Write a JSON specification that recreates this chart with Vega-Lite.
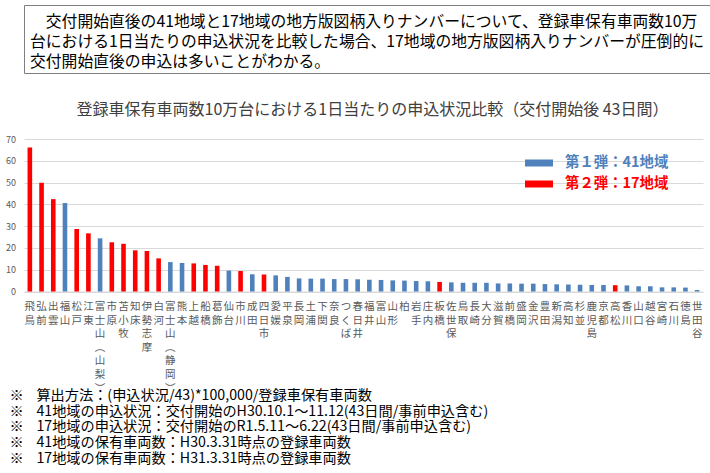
{
  "$schema": "https://vega.github.io/schema/vega-lite/v6.json",
  "padding": {"left": 4, "top": 4, "right": 0, "bottom": 0},
  "spacing": 28,
  "config": {
    "font": "Noto Sans CJK JP",
    "view": {"stroke": null}
  },
  "vconcat": [
    {
      "width": 703,
      "height": 68,
      "view": {"stroke": "#7F7F7F", "strokeWidth": 1},
      "data": {
        "values": [
          {"line": 1, "text": "\u200b　交付開始直後の41地域と17地域の地方版図柄入りナンバーについて、登録車保有車両数10万"},
          {"line": 2, "text": "台における1日当たりの申込状況を比較した場合、17地域の地方版図柄入りナンバーが圧倒的に"},
          {"line": 3, "text": "交付開始直後の申込は多いことがわかる。"}
        ]
      },
      "mark": {"type": "text", "align": "left", "baseline": "middle", "fontSize": 15.8, "color": "#000000", "dx": 6, "dy": 3},
      "encoding": {
        "x": {"value": 0},
        "y": {"field": "line", "type": "ordinal", "axis": null, "scale": {"type": "point", "padding": 0.66}},
        "text": {"field": "text"}
      }
    },
    {
      "width": 679,
      "height": 152.5,
      "title": {
        "text": "登録車保有車両数10万台における1日当たりの申込状況比較（交付開始後 43日間）",
        "fontSize": 16,
        "fontWeight": "normal",
        "color": "#404040",
        "anchor": "middle",
        "offset": 17,
        "dx": 9
      },
      "data": {
        "values": [
          {"region": "飛鳥", "group": "第２弾：17地域", "value": 66.1},
          {"region": "弘前", "group": "第２弾：17地域", "value": 49.9},
          {"region": "出雲", "group": "第２弾：17地域", "value": 42.4},
          {"region": "福山", "group": "第１弾：41地域", "value": 40.6},
          {"region": "松戸", "group": "第２弾：17地域", "value": 28.7},
          {"region": "江東", "group": "第２弾：17地域", "value": 26.7},
          {"region": "富士山（山梨）", "group": "第１弾：41地域", "value": 24.4},
          {"region": "市原", "group": "第２弾：17地域", "value": 22.6},
          {"region": "苫小牧", "group": "第２弾：17地域", "value": 21.9},
          {"region": "知床", "group": "第２弾：17地域", "value": 18.9},
          {"region": "伊勢志摩", "group": "第２弾：17地域", "value": 18.6},
          {"region": "白河", "group": "第２弾：17地域", "value": 15.2},
          {"region": "富士山（静岡）", "group": "第１弾：41地域", "value": 13.5},
          {"region": "熊本", "group": "第１弾：41地域", "value": 13.1},
          {"region": "上越", "group": "第２弾：17地域", "value": 12.9},
          {"region": "船橋", "group": "第２弾：17地域", "value": 12.2},
          {"region": "葛飾", "group": "第２弾：17地域", "value": 11.8},
          {"region": "仙台", "group": "第１弾：41地域", "value": 9.6},
          {"region": "市川", "group": "第２弾：17地域", "value": 9.4},
          {"region": "成田", "group": "第１弾：41地域", "value": 7.9},
          {"region": "四日市", "group": "第２弾：17地域", "value": 7.8},
          {"region": "愛媛", "group": "第１弾：41地域", "value": 7.4},
          {"region": "平泉", "group": "第１弾：41地域", "value": 6.7},
          {"region": "長岡", "group": "第１弾：41地域", "value": 6.0},
          {"region": "土浦", "group": "第１弾：41地域", "value": 5.9},
          {"region": "下関", "group": "第１弾：41地域", "value": 5.9},
          {"region": "奈良", "group": "第１弾：41地域", "value": 5.7},
          {"region": "つくば", "group": "第１弾：41地域", "value": 5.7},
          {"region": "春日井", "group": "第１弾：41地域", "value": 5.6},
          {"region": "福井", "group": "第１弾：41地域", "value": 5.4},
          {"region": "富山", "group": "第１弾：41地域", "value": 5.3},
          {"region": "山形", "group": "第１弾：41地域", "value": 5.1},
          {"region": "柏", "group": "第１弾：41地域", "value": 5.0},
          {"region": "岩手", "group": "第１弾：41地域", "value": 4.8},
          {"region": "庄内", "group": "第１弾：41地域", "value": 4.7},
          {"region": "板橋", "group": "第２弾：17地域", "value": 4.4},
          {"region": "佐世保", "group": "第１弾：41地域", "value": 4.2},
          {"region": "鳥取", "group": "第１弾：41地域", "value": 4.0},
          {"region": "長崎", "group": "第１弾：41地域", "value": 4.0},
          {"region": "大分", "group": "第１弾：41地域", "value": 4.0},
          {"region": "滋賀", "group": "第１弾：41地域", "value": 3.7},
          {"region": "前橋", "group": "第１弾：41地域", "value": 3.7},
          {"region": "盛岡", "group": "第１弾：41地域", "value": 3.6},
          {"region": "金沢", "group": "第１弾：41地域", "value": 3.6},
          {"region": "豊田", "group": "第１弾：41地域", "value": 3.4},
          {"region": "新潟", "group": "第１弾：41地域", "value": 3.3},
          {"region": "高知", "group": "第１弾：41地域", "value": 3.2},
          {"region": "杉並", "group": "第１弾：41地域", "value": 3.1},
          {"region": "鹿児島", "group": "第１弾：41地域", "value": 3.0},
          {"region": "京都", "group": "第１弾：41地域", "value": 3.0},
          {"region": "高松", "group": "第２弾：17地域", "value": 2.9},
          {"region": "香川", "group": "第１弾：41地域", "value": 2.8},
          {"region": "山口", "group": "第１弾：41地域", "value": 2.4},
          {"region": "越谷", "group": "第１弾：41地域", "value": 2.4},
          {"region": "宮崎", "group": "第１弾：41地域", "value": 1.9},
          {"region": "石川", "group": "第１弾：41地域", "value": 1.9},
          {"region": "徳島", "group": "第１弾：41地域", "value": 1.8},
          {"region": "世田谷", "group": "第１弾：41地域", "value": 0.7}
        ]
      },
      "mark": {"type": "bar", "size": 4.6},
      "encoding": {
        "x": {
          "field": "region",
          "type": "nominal",
          "sort": null,
          "scale": {"paddingInner": 0, "paddingOuter": 0},
          "axis": {
            "title": [
              "※\u00a0\u00a0\u00a0\u00a0算出方法：(申込状況/43)*100,000/登録車保有車両数",
              "※\u00a0\u00a0\u00a0\u00a041地域の申込状況：交付開始のH30.10.1～11.12(43日間/事前申込含む)",
              "※\u00a0\u00a0\u00a0\u00a017地域の申込状況：交付開始のR1.5.11～6.22(43日間/事前申込含む)",
              "※\u00a0\u00a0\u00a0\u00a041地域の保有車両数：H30.3.31時点の登録車両数",
              "※\u00a0\u00a0\u00a0\u00a017地域の保有車両数：H31.3.31時点の登録車両数"
            ],
            "titleX": -15,
            "titleY": 97,
            "titleAnchor": "start",
            "titleAlign": "left",
            "titleBaseline": "top",
            "titleFontSize": 14.2,
            "titleFontWeight": "normal",
            "titleColor": "#000000",
            "titleLineHeight": 15.7,
            "labelExpr": "split(replace(replace(datum.label, '（', '︵'), '）', '︶'), '')",
            "labelAngle": 0,
            "labelAlign": "center",
            "labelBaseline": "top",
            "labelFontSize": 10.5,
            "labelLineHeight": 13.6,
            "labelColor": "#595959",
            "labelPadding": 10,
            "labelOverlap": false,
            "labelLimit": 0,
            "ticks": false,
            "domainColor": "#D9D9D9"
          }
        },
        "y": {
          "field": "value",
          "type": "quantitative",
          "scale": {"domain": [0, 70]},
          "axis": {
            "title": null,
            "values": [0, 10, 20, 30, 40, 50, 60, 70],
            "domain": false,
            "ticks": false,
            "gridColor": "#D9D9D9",
            "labelFontSize": 9,
            "labelColor": "#595959",
            "labelPadding": 8.5,
            "minExtent": 19.5,
            "maxExtent": 19.5
          }
        },
        "color": {
          "field": "group",
          "type": "nominal",
          "scale": {
            "domain": ["第１弾：41地域", "第２弾：17地域"],
            "range": ["#4F81BD", "#FF0000"]
          },
          "legend": {
            "title": null,
            "orient": "none",
            "legendX": 501,
            "legendY": 144,
            "direction": "vertical",
            "symbolType": "M-1,-0.25H1V0.25H-1Z",
            "symbolSize": 784,
            "symbolStrokeWidth": 0,
            "labelOffset": 12,
            "labelFontSize": 14.4,
            "labelFontWeight": "bold",
            "labelColor": {"expr": "datum.value == '第２弾：17地域' ? '#FF0000' : '#4F81BD'"},
            "rowPadding": -10
          }
        }
      }
    }
  ]
}
